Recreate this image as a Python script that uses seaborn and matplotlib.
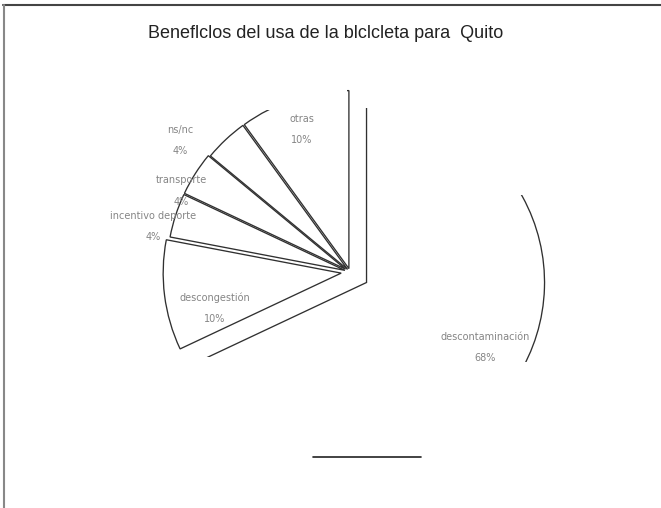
import numpy as np
import matplotlib
matplotlib.use("Agg")
import matplotlib.pyplot as plt
from matplotlib.path import Path
from matplotlib.lines import Line2D
import seaborn as sns

# datos del grafico
categorias = ["descontaminación", "descongestión", "incentivo deporte",
              "transporte", "ns/nc", "otras"]
porcentajes = [68, 10, 4, 4, 4, 10]
titulo = "Beneflclos del usa de la blclcleta para  Quito"

# posicion de las etiquetas (radio, angulo) y separacion de las porciones
lab_r = [0.868, 0.785, 1.136, 1.053, 1.209, 0.847]
lab_ang = [-29.1, 194.9, 166.9, 154.4, 142.2, 108.6]
explode = [0.11, 0.05, 0.03, 0.03, 0.02, 0.02]

sns.set_theme(style="white")
plt.rcParams["font.family"] = ["DejaVu Sans"]

W, H = 661, 508
CX, CY, R = 350, 272, 178  # centro y radio en pixeles

fig = plt.figure(figsize=(W / 100, H / 100), dpi=100)
ax = fig.add_axes([0, 0, 1, 1])


def px(x, y):
    return (x - CX) / R, (CY - y) / R


wedges, _ = ax.pie(porcentajes, startangle=90, counterclock=False,
                   explode=explode, radius=1, center=(0, 0),
                   wedgeprops=dict(facecolor="white", edgecolor="#303030",
                                   linewidth=0.95))

# la imagen original esta recortada: solo se ven partes del contorno
borde = [(0, 110), (347, 110), (347, 87), (358, 87), (358, 108),
         (372, 108), (372, 195), (W, 195), (W, 362), (216, 362),
         (216, 357), (0, 357), (0, 110)]
clip = Path([px(x, y) for x, y in borde], closed=True)
for w in wedges:
    w.set_clip_on(True)
    w.set_clip_path(clip, ax.transData)

for cat, p, r, a in zip(categorias, porcentajes, lab_r, lab_ang):
    t = np.deg2rad(a)
    ax.text(r * np.cos(t), r * np.sin(t), f"{cat}\n{p}%", ha="center",
            va="center", fontsize=7, color="#858585", linespacing=2.4)

ax.set_xlim(-CX / R, (W - CX) / R)
ax.set_ylim(-(H - CY) / R, CY / R)
ax.set_aspect("equal")
ax.axis("off")

fig.text(326 / W, 1 - 33 / H, titulo, ha="center", va="center",
         fontsize=13, family="Liberation Sans", color="#222222")

# marco y linea inferior del documento escaneado
fig.add_artist(Line2D([3 / W, 1], [1 - 5 / H] * 2, color="#444444", lw=1.5))
fig.add_artist(Line2D([4 / W] * 2, [0, 1 - 5 / H], color="#888888", lw=1.5))
fig.add_artist(Line2D([313 / W, 421 / W], [1 - 457 / H] * 2, color="#222222", lw=1.2))

fig.savefig("out.png", dpi=100)
